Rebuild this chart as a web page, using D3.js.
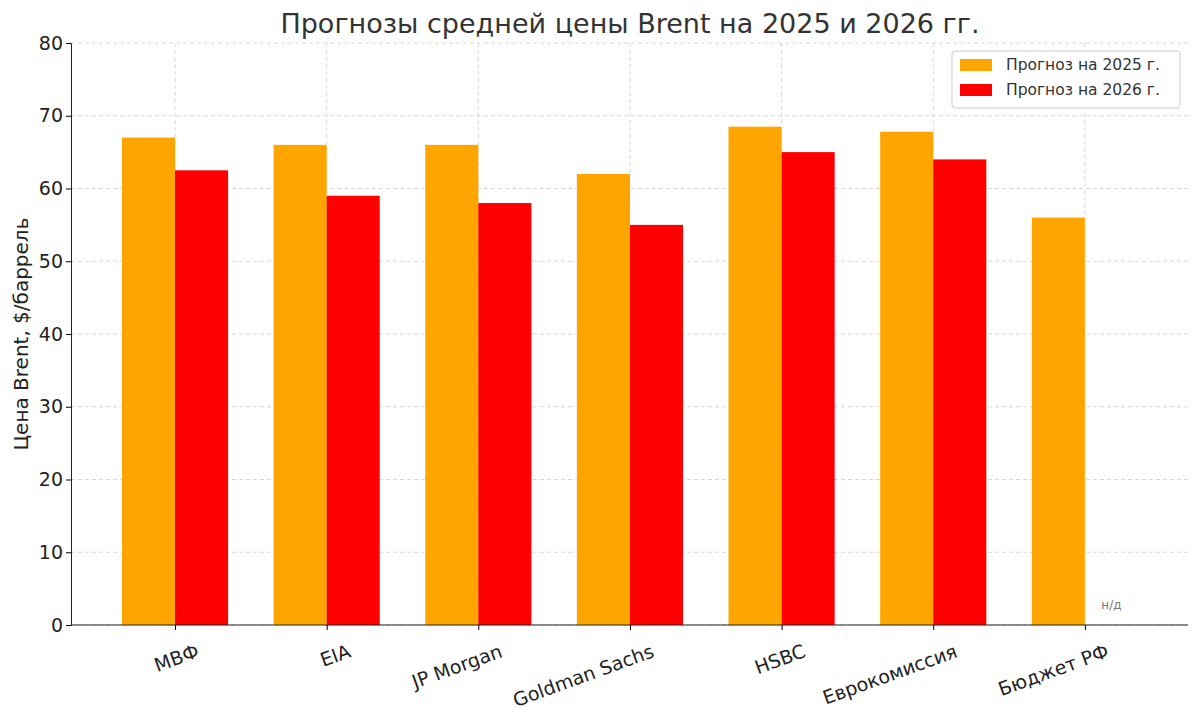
<!DOCTYPE html>
<html><head><meta charset="utf-8">
<script src="https://cdn.jsdelivr.net/npm/d3@7"></script>
<style>body{margin:0;background:#fff;font-family:"DejaVu Sans",sans-serif}</style>
</head><body>
<svg width="1200" height="716"></svg>
<script>
const categories = ['МВФ','EIA','JP Morgan','Goldman Sachs','HSBC','Еврокомиссия','Бюджет РФ'];
const values2025 = [67, 66, 66, 62, 68.5, 67.8, 56];
const values2026 = [62.5, 59, 58, 55, 65, 64, null];
const yTicks = [0,10,20,30,40,50,60,70,80];
const seriesNames = ['Прогноз на 2025 г.','Прогноз на 2026 г.'];
const colors = ['#ffa500','#ff0000'];

const svg = d3.select('svg');
const margin = {top:43, right:12, bottom:91, left:71};
const innerWidth = 1200 - margin.left - margin.right;
const innerHeight = 716 - margin.top - margin.bottom;
const g = svg.append('g').attr('transform',`translate(${margin.left},${margin.top})`);

const barW = 0.35;
const xScale = d3.scaleLinear().domain([-0.686, 6.68]).range([0, innerWidth]);
const yScale = d3.scaleLinear().domain([0,80]).range([innerHeight,0]);

// grid
g.selectAll('.hg').data(yTicks).enter().append('line')
  .attr('x1',0).attr('x2',innerWidth)
  .attr('y1',d=>yScale(d)).attr('y2',d=>yScale(d))
  .attr('stroke','#d9d9d9').attr('stroke-dasharray','4,3');
g.selectAll('.vg').data(categories).enter().append('line')
  .attr('x1',(d,i)=>xScale(i)).attr('x2',(d,i)=>xScale(i))
  .attr('y1',0).attr('y2',innerHeight)
  .attr('stroke','#d9d9d9').attr('stroke-dasharray','4,3');

// bars
[values2025, values2026].forEach((vals, s) => {
  g.selectAll('.b'+s).data(vals.map((v,i)=>({v,i})).filter(d=>d.v!=null))
    .enter().append('rect')
    .attr('x', d => xScale(d.i + (s===0 ? -barW : 0)))
    .attr('width', xScale(barW) - xScale(0))
    .attr('y', d => yScale(d.v))
    .attr('height', d => innerHeight - yScale(d.v))
    .attr('fill', colors[s]);
});
g.append('text').attr('x', xScale(6 + barW/2)).attr('y', yScale(2.2))
  .attr('text-anchor','middle').attr('font-size',12).attr('fill','#777').text('н/д');

// axes
const yAxis = g.append('g').call(d3.axisLeft(yScale).tickValues(yTicks).tickSize(5));
yAxis.selectAll('text').attr('font-size',19).attr('fill','#222').attr('font-family','DejaVu Sans');
const xAxis = g.append('g').attr('transform',`translate(0,${innerHeight})`)
  .call(d3.axisBottom(xScale).tickValues(d3.range(categories.length)).tickFormat(i=>categories[i]).tickSize(5));
xAxis.select('.domain').attr('d',`M0,0H${innerWidth}`);
xAxis.selectAll('text').attr('font-size',19).attr('fill','#222').attr('font-family','DejaVu Sans')
  .attr('text-anchor','end').attr('dy',0).attr('transform','translate(22,24) rotate(-20)');
g.selectAll('.domain').attr('stroke','#222');

// labels
svg.append('text').attr('x',630).attr('y',33).attr('text-anchor','middle')
  .attr('font-size',27).attr('fill','#333').text('Прогнозы средней цены Brent на 2025 и 2026 гг.');
svg.append('text').attr('transform',`translate(28,${margin.top+innerHeight/2}) rotate(-90)`)
  .attr('text-anchor','middle').attr('font-size',20).attr('fill','#222').text('Цена Brent, $/баррель');

// legend
const lg = svg.append('g').attr('transform','translate(952,51)');
lg.append('rect').attr('width',228).attr('height',57).attr('rx',3)
  .attr('fill','#fff').attr('stroke','#ccc');
seriesNames.forEach((n,i)=>{
  lg.append('rect').attr('x',8).attr('y',8+i*25).attr('width',32).attr('height',12).attr('fill',colors[i]);
  lg.append('text').attr('x',54).attr('y',19+i*25).attr('font-size',15.5).attr('fill','#333').text(n);
});
</script>
</body></html>
